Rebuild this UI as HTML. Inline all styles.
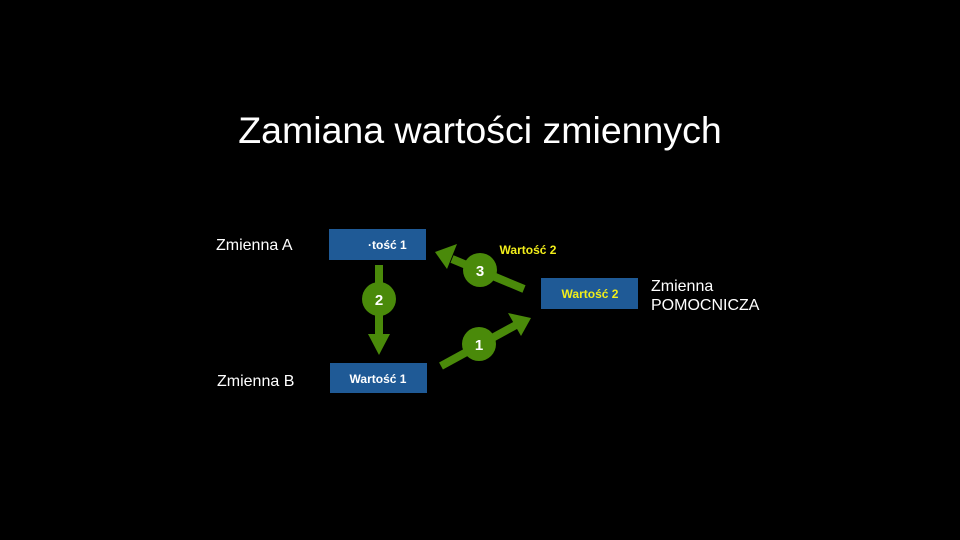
<!DOCTYPE html>
<html><head><meta charset="utf-8"><style>
body{margin:0;width:960px;height:540px;background:#000;overflow:hidden;font-family:"Liberation Sans",sans-serif}
</style></head><body>
<svg width="960" height="540" xmlns="http://www.w3.org/2000/svg" style="position:absolute;left:0;top:0">
<text x="480" y="143" fill="#fff" font-size="37.5" text-anchor="middle" font-family="Liberation Sans">Zamiana wartości zmiennych</text>
<text x="216" y="250" fill="#fff" font-size="16">Zmienna A</text>
<text x="217" y="386" fill="#fff" font-size="16">Zmienna B</text>
<text x="651" y="291" fill="#fff" font-size="16">Zmienna</text>
<text x="651" y="310" fill="#fff" font-size="16">POMOCNICZA</text>
<rect x="329" y="229" width="97" height="31" fill="#1f5a96"/>
<text x="368" y="249" fill="#fff" font-size="12" font-weight="bold">·tość 1</text>
<rect x="330" y="363" width="97" height="30" fill="#1f5a96"/>
<text x="378" y="383" fill="#fff" font-size="12" font-weight="bold" text-anchor="middle">Wartość 1</text>
<rect x="541" y="278" width="97" height="31" fill="#1f5a96"/>
<text x="590" y="298" fill="#f2ee1a" font-size="12" font-weight="bold" text-anchor="middle">Wartość 2</text>
<text x="528" y="254" fill="#f2ee1a" font-size="12" font-weight="bold" text-anchor="middle">Wartość 2</text>
<g fill="#4a8a0a" stroke="#4a8a0a">
<line x1="379" y1="265" x2="379" y2="338" stroke-width="8"/>
<polygon points="368,334 390,334 379,355" stroke="none"/>
<circle cx="379" cy="299" r="17" stroke="none"/>
<line x1="441" y1="366" x2="516" y2="325" stroke-width="8"/>
<polygon points="508,313 521,336 531,318" stroke="none"/>
<circle cx="479" cy="344" r="17" stroke="none"/>
<line x1="524" y1="289" x2="452" y2="259" stroke-width="8"/>
<polygon points="435,252 457,244 447,269" stroke="none"/>
<circle cx="480" cy="270" r="17" stroke="none"/>
</g>
<g fill="#fff" font-size="15" font-weight="bold" text-anchor="middle">
<text x="379" y="305">2</text>
<text x="479" y="350">1</text>
<text x="480" y="276">3</text>
</g>
</svg>
</body></html>
